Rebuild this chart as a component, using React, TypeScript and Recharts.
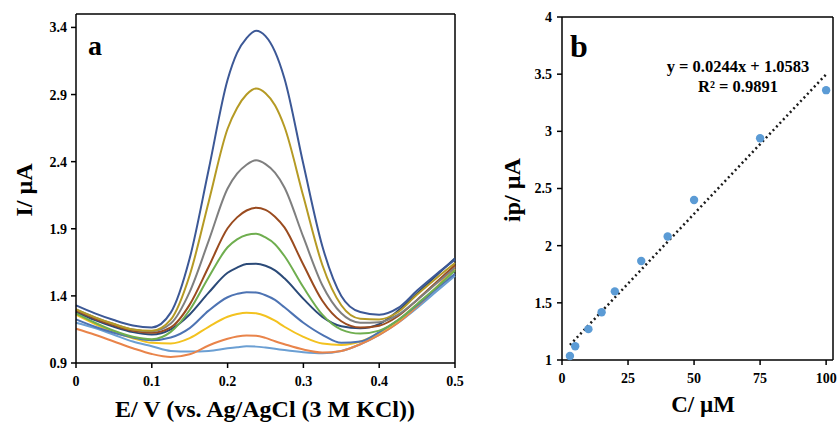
import { LineChart, Line, XAxis, YAxis, ReferenceLine, ComposedChart, Scatter } from 'recharts';

const serif = "'Liberation Serif', 'Times New Roman', serif";

// panel a: DPV curves, potential in V, current in µA
const potential = [0, 0.025, 0.05, 0.075, 0.1, 0.125, 0.15, 0.175, 0.2, 0.2125, 0.225, 0.2375, 0.25, 0.2625, 0.275, 0.3, 0.325, 0.35, 0.375, 0.4, 0.425, 0.45, 0.475, 0.5];
const i3 = [1.2, 1.16, 1.11, 1.06, 1.025, 0.99, 0.985, 0.99, 1.01, 1.018, 1.024, 1.022, 1.015, 1.006, 0.996, 0.98, 0.972, 0.99, 1.04, 1.11, 1.2, 1.31, 1.43, 1.55];
const i5 = [1.155, 1.11, 1.06, 1.01, 0.967, 0.945, 0.965, 1.03, 1.08, 1.097, 1.105, 1.103, 1.087, 1.062, 1.04, 1.0, 0.978, 0.99, 1.04, 1.11, 1.2, 1.32, 1.46, 1.62];
const i10 = [1.26, 1.19, 1.13, 1.085, 1.05, 1.045, 1.085, 1.17, 1.245, 1.265, 1.275, 1.27, 1.25, 1.215, 1.17, 1.095, 1.045, 1.035, 1.06, 1.125, 1.215, 1.33, 1.46, 1.6];
const i15 = [1.225, 1.17, 1.125, 1.09, 1.07, 1.09, 1.16, 1.29, 1.39, 1.415, 1.428, 1.425, 1.405, 1.37, 1.315, 1.2, 1.11, 1.05, 1.06, 1.13, 1.22, 1.33, 1.45, 1.565];
const i20 = [1.28, 1.22, 1.17, 1.13, 1.113, 1.151, 1.262, 1.424, 1.572, 1.611, 1.638, 1.64, 1.625, 1.59, 1.531, 1.378, 1.244, 1.174, 1.159, 1.19, 1.29, 1.42, 1.55, 1.68];
const i30 = [1.27, 1.2, 1.14, 1.095, 1.077, 1.132, 1.295, 1.539, 1.762, 1.821, 1.854, 1.863, 1.835, 1.785, 1.697, 1.464, 1.26, 1.149, 1.119, 1.141, 1.22, 1.34, 1.46, 1.59];
const i40 = [1.29, 1.23, 1.18, 1.14, 1.125, 1.165, 1.335, 1.617, 1.904, 1.985, 2.036, 2.057, 2.041, 1.99, 1.91, 1.632, 1.364, 1.211, 1.164, 1.178, 1.25, 1.37, 1.5, 1.63];
const i50 = [1.3, 1.24, 1.19, 1.15, 1.136, 1.194, 1.43, 1.81, 2.2, 2.31, 2.377, 2.41, 2.382, 2.318, 2.207, 1.837, 1.479, 1.27, 1.2, 1.204, 1.26, 1.37, 1.49, 1.61];
const i75 = [1.3, 1.24, 1.19, 1.15, 1.14, 1.223, 1.554, 2.1, 2.645, 2.8, 2.9, 2.945, 2.91, 2.82, 2.66, 2.14, 1.63, 1.33, 1.23, 1.225, 1.28, 1.41, 1.53, 1.645];
const i100 = [1.33, 1.27, 1.22, 1.18, 1.165, 1.275, 1.68, 2.34, 3.01, 3.21, 3.32, 3.375, 3.335, 3.22, 3.02, 2.38, 1.77, 1.4, 1.28, 1.26, 1.31, 1.44, 1.56, 1.67];
const curveColors = ['#6b9fd3', '#e9844a', '#f3c21f', '#4d73b3', '#2b4a78', '#6fae4f', '#9a4b1f', '#7f7f7f', '#b59a24', '#3c5896'];
const xTicksA = [0, 0.1, 0.2, 0.3, 0.4, 0.5];
const yTicksA = [0.9, 1.4, 1.9, 2.4, 2.9, 3.4];

// panel b: calibration
const conc = [3, 5, 10, 15, 20, 30, 40, 50, 75, 100];
const ip = [1.035, 1.12, 1.27, 1.417, 1.6, 1.866, 2.08, 2.4, 2.94, 3.36];
const trendC = [3, 100];
const trendIp = [1.1315, 3.4983];
const xTicksB = [0, 25, 50, 75, 100];
const yTicksB = [1, 1.5, 2, 2.5, 3, 3.5, 4];

const curves = [i3, i5, i10, i15, i20, i30, i40, i50, i75, i100];
const dpvData = potential.map((e, i) => {
  const row: Record<string, number> = { e };
  curves.forEach((c, k) => { row['c' + k] = c[i]; });
  return row;
});
const pointData = conc.map((x, i) => ({ x, y: ip[i] }));
const trendData = trendC.map((x, i) => ({ x, y: trendIp[i] }));

const tickStyle = { fill: '#000', fontSize: 14, fontWeight: 700, fontFamily: serif };
const axisStroke = { stroke: '#000', strokeWidth: 1.5 };

export default function App() {
  return (
    <div style={{ position: 'absolute', left: 0, top: 0, width: 838, height: 424, background: '#fff', fontFamily: serif }}>
      <style>{`.recharts-cartesian-axis-tick-value, .recharts-cartesian-axis-tick-value tspan { font-family: ${serif}; font-weight: 700; }`}</style>
      <div style={{ position: 'absolute', left: 0, top: 0 }}>
        <LineChart width={480} height={424} data={dpvData} margin={{ top: 14, right: 25, bottom: 31, left: 16 }}>
          <XAxis dataKey="e" type="number" domain={[0, 0.5]} ticks={xTicksA} interval={0} height={30}
            tickSize={5} tickMargin={8} axisLine={axisStroke} tickLine={axisStroke} tick={tickStyle} />
          <YAxis type="number" domain={[0.9, 3.5]} ticks={yTicksA} interval={0} width={60}
            tickSize={5} tickMargin={4} axisLine={axisStroke} tickLine={axisStroke} tick={tickStyle} />
          <ReferenceLine y={3.5} stroke="#000" strokeWidth={1.5} />
          <ReferenceLine x={0.5} stroke="#000" strokeWidth={1.5} />
          {curves.map((_, k) => (
            <Line key={k} type="monotone" dataKey={'c' + k} stroke={curveColors[k]} strokeWidth={2}
              dot={false} activeDot={false} isAnimationActive={false} />
          ))}
        </LineChart>
      </div>

      <div style={{ position: 'absolute', left: 480, top: 0 }}>
        <ComposedChart width={358} height={424} margin={{ top: 17, right: 5, bottom: 34, left: 32 }}>
          <XAxis dataKey="x" type="number" domain={[0, 102.6]} ticks={xTicksB} interval={0} height={30}
            tickSize={5} tickMargin={8} axisLine={axisStroke} tickLine={axisStroke} tick={tickStyle} />
          <YAxis dataKey="y" type="number" domain={[1, 4]} ticks={yTicksB} interval={0} width={50}
            tickSize={5} tickMargin={5} axisLine={axisStroke} tickLine={axisStroke} tick={tickStyle} />
          <ReferenceLine y={4} stroke="#000" strokeWidth={1.5} />
          <ReferenceLine x={102.6} stroke="#000" strokeWidth={1.5} />
          <Line data={trendData} dataKey="y" type="linear" stroke="#1a1a1a" strokeWidth={2.5}
            strokeDasharray="2 3" dot={false} activeDot={false} isAnimationActive={false} />
          <Scatter data={pointData} dataKey="y" fill="#5b9bd5" isAnimationActive={false}
            shape={(p: any) => <circle cx={p.cx} cy={p.cy} r={4.2} fill="#5b9bd5" />} />
        </ComposedChart>
      </div>

      <svg width={838} height={424} style={{ position: 'absolute', left: 0, top: 0, pointerEvents: 'none' }}
        fontFamily={serif} fontWeight={700} fill="#000">
        <text x={88} y={55} fontSize={28}>a</text>
        <text x={32} y={190} fontSize={24} textAnchor="middle" transform="rotate(-90 32 190)">I/ µA</text>
        <text x={265} y={417} fontSize={24} textAnchor="middle">E/ V (vs. Ag/AgCl (3 M KCl))</text>

        <text x={570} y={57} fontSize={32}>b</text>
        <text x={520} y={190} fontSize={24} textAnchor="middle" transform="rotate(-90 520 190)">ip/ µA</text>
        <text x={703} y={412} fontSize={23} textAnchor="middle">C/ µM</text>
        <text x={738} y={72} fontSize={16.5} textAnchor="middle">y = 0.0244x + 1.0583</text>
        <text x={738} y={92} fontSize={16.5} textAnchor="middle">R² = 0.9891</text>
      </svg>
    </div>
  );
}
